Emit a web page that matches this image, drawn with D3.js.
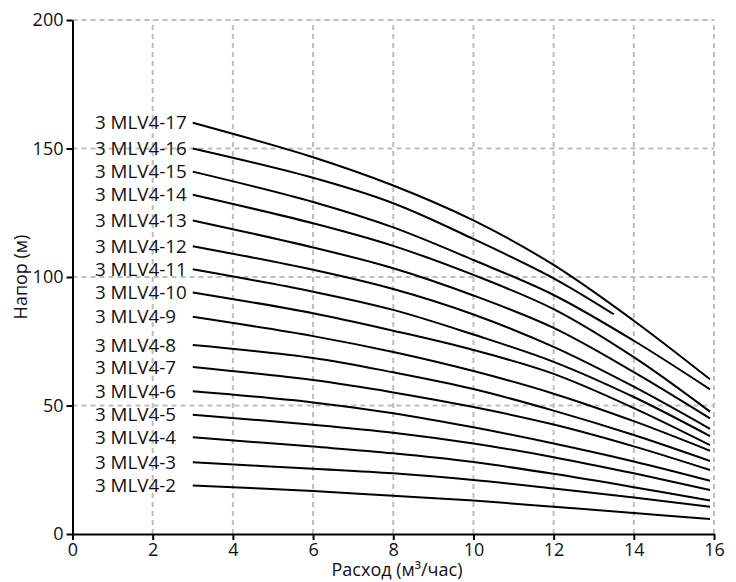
<!DOCTYPE html>
<html>
<head>
<meta charset="utf-8">
<script src="https://cdn.jsdelivr.net/npm/d3@7"></script>
<style>
  html, body { margin: 0; padding: 0; background: #fff; }
  svg { display: block; font-family: "Open Sans", "Noto Sans", sans-serif; }
</style>
</head>
<body>
<svg id="chart" width="736" height="582"></svg>
<script>
// ---- Data ----
const models = ["3 MLV4-17","3 MLV4-16","3 MLV4-15","3 MLV4-14","3 MLV4-13","3 MLV4-12","3 MLV4-11","3 MLV4-10","3 MLV4-9","3 MLV4-8","3 MLV4-7","3 MLV4-6","3 MLV4-5","3 MLV4-4","3 MLV4-3","3 MLV4-2"];
const flows = [3, 6, 8, 10, 12, 14, 15.9];
const flows16 = [3, 6, 8, 10, 12, 13.5];
const head17 = [160, 146.6, 135.6, 122.0, 104.7, 83.0, 60.2];
const head16 = [150, 138.6, 128.7, 114.8, 99.5, 85.5];
const head15 = [141, 129.2, 119.3, 106.6, 93.0, 75.2, 56.3];
const head14 = [132, 120.9, 112.1, 100.8, 87.5, 68.8, 47.6];
const head13 = [122, 111.5, 103.4, 92.8, 80.2, 63.0, 45.0];
const head12 = [112, 102.8, 95.3, 85.4, 72.8, 57.3, 40.9];
const head11 = [103, 94.3, 87.2, 77.6, 67.0, 53.3, 38.1];
const head10 = [94, 85.9, 79.1, 71.6, 62.3, 49.0, 34.6];
const head9  = [84.5, 77.0, 70.8, 63.4, 54.6, 43.9, 32.4];
const head8  = [73.5, 68.5, 62.9, 56.4, 48.0, 38.5, 28.4];
const head7  = [65, 59.9, 55.1, 49.4, 42.6, 34.1, 24.9];
const head6  = [55.5, 51.2, 47.0, 41.5, 35.2, 28.2, 20.7];
const head5  = [46.4, 42.5, 39.4, 35.2, 29.9, 23.6, 17.1];
const head4  = [37.6, 34.0, 31.4, 28.0, 23.4, 18.2, 13.0];
const head3  = [27.9, 25.4, 23.6, 21.0, 17.7, 14.2, 10.6];
const head2  = [18.9, 16.7, 14.9, 13.0, 10.6, 8.2, 5.8];
const xTicks = [0, 2, 4, 6, 8, 10, 12, 14, 16];
const yTicks = [0, 50, 100, 150, 200];
const xTitle = "Расход (м³/час)";
const yTitle = "Напор (м)";

const heads = [head17, head16, head15, head14, head13, head12, head11, head10, head9, head8, head7, head6, head5, head4, head3, head2];
const series = models.map((name, i) => {
  const fx = name === "3 MLV4-16" ? flows16 : flows;
  return { name, points: fx.map((q, j) => [q, heads[i][j]]) };
});

// ---- Layout ----
const svg = d3.select("#chart");
const x = d3.scaleLinear().domain([0, 16]).range([72.5, 714]);
const y = d3.scaleLinear().domain([0, 200]).range([534, 20]);

// Gridlines
const grid = svg.append("g").attr("stroke", "#bdbdbd").attr("stroke-width", 2).attr("stroke-dasharray", "5,4");
grid.selectAll("line.v").data(xTicks.filter(d => d > 0)).join("line")
  .attr("x1", d => x(d)).attr("x2", d => x(d))
  .attr("y1", y(0)).attr("y2", y(200));
grid.selectAll("line.h").data(yTicks.filter(d => d > 0)).join("line")
  .attr("x1", x(0)).attr("x2", x(16))
  .attr("y1", d => y(d)).attr("y2", d => y(d));

// Curves
const line = d3.line().x(d => x(d[0])).y(d => y(d[1])).curve(d3.curveCatmullRom.alpha(0.5));
svg.append("g").selectAll("path").data(series).join("path")
  .attr("d", d => line(d.points))
  .attr("fill", "none").attr("stroke", "#000").attr("stroke-width", 2);

// Labels (left-aligned column)
svg.append("g").selectAll("text").data(series).join("text")
  .attr("x", 95)
  .attr("y", d => y(d.points[0][1]))
  .attr("dy", "0.35em")
  .attr("text-anchor", "start")
  .attr("font-size", 18.8)
  .attr("fill", "#111")
  .text(d => d.name);

// Axes
const xAxis = svg.append("g").attr("transform", `translate(0,${y(0)})`)
  .call(d3.axisBottom(x).tickValues(xTicks).tickFormat(d3.format("d")).tickSizeOuter(0));
const yAxis = svg.append("g").attr("transform", `translate(${x(0)},0)`)
  .call(d3.axisLeft(y).tickValues(yTicks).tickFormat(d3.format("d")).tickSizeOuter(0));
[xAxis, yAxis].forEach(g => {
  g.attr("font-size", 18).attr("font-family", "Open Sans, Noto Sans, sans-serif");
  g.selectAll("path.domain").attr("stroke", "#000").attr("stroke-width", 2);
  g.selectAll(".tick line").attr("stroke", "#000").attr("stroke-width", 2);
  g.selectAll(".tick text").attr("fill", "#111");
});

// Axis titles
svg.append("text")
  .attr("x", 397).attr("y", 576)
  .attr("text-anchor", "middle").attr("font-size", 18).attr("fill", "#111")
  .text(xTitle);
svg.append("text")
  .attr("transform", "translate(27,277) rotate(-90)")
  .attr("text-anchor", "middle").attr("font-size", 18).attr("fill", "#111")
  .text(yTitle);
</script>
</body>
</html>
